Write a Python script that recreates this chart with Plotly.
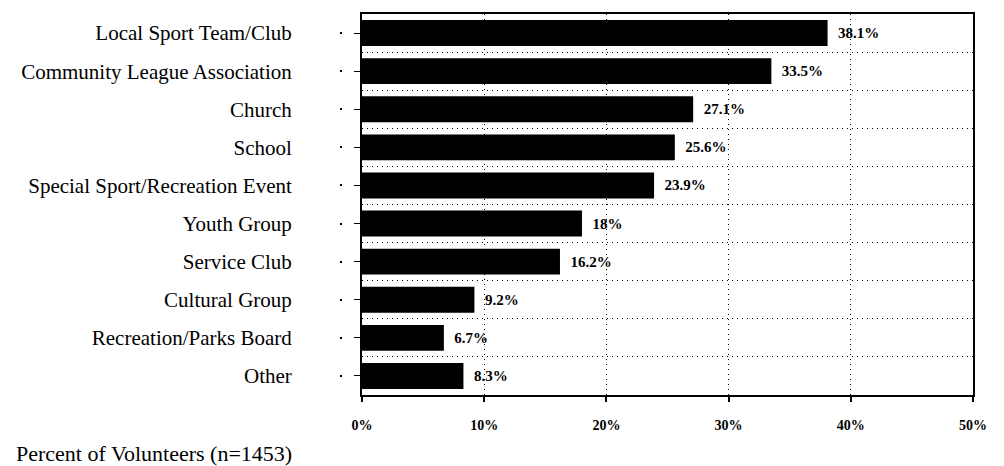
import plotly.graph_objects as go

categories = [
    "Local Sport Team/Club",
    "Community League Association",
    "Church",
    "School",
    "Special Sport/Recreation Event",
    "Youth Group",
    "Service Club",
    "Cultural Group",
    "Recreation/Parks Board",
    "Other",
]
percents = [38.1, 33.5, 27.1, 25.6, 23.9, 18, 16.2, 9.2, 6.7, 8.3]
x_ticks = [0, 10, 20, 30, 40, 50]
x_tick_labels = ["0%", "10%", "20%", "30%", "40%", "50%"]
axis_title = "Percent of Volunteers (n=1453)"

positions = list(range(len(categories)))
serif = "Liberation Serif, Times New Roman, serif"

# page geometry (pixels)
W, H = 1004, 466
M_L, M_R, M_T, M_B = 342, 31, 14, 71
AXIS_X = 362
plot_w = W - M_L - M_R
plot_h = H - M_T - M_B

fig = go.Figure()
fig.add_trace(go.Bar(
    x=percents,
    y=positions,
    orientation="h",
    width=0.68,
    marker=dict(color="black", line=dict(width=0)),
    text=percents,
    texttemplate="  %{x}%",
    textposition="outside",
    cliponaxis=False,
    textfont=dict(family=serif, size=15, color="black", weight="bold"),
    showlegend=False,
))
# empty trace bound to the secondary tick column
fig.add_trace(go.Scatter(
    x=[None], y=[None], yaxis="y2", showlegend=False, hoverinfo="skip",
))

fig.update_layout(
    width=W,
    height=H,
    margin=dict(l=M_L, r=M_R, t=M_T, b=M_B),
    plot_bgcolor="white",
    paper_bgcolor="white",
    bargap=0.3,
    xaxis=dict(
        domain=[(AXIS_X - M_L) / plot_w, 1],
        range=[0, 50],
        tickvals=x_ticks,
        ticktext=x_tick_labels,
        ticks="outside",
        ticklen=5,
        tickwidth=2,
        tickcolor="black",
        ticklabelstandoff=11,
        tickfont=dict(family=serif, size=14, color="black", weight="bold"),
        showline=True,
        linecolor="black",
        linewidth=2,
        mirror=True,
        showgrid=True,
        gridcolor="black",
        gridwidth=1,
        griddash="1px,4px",
        zeroline=False,
        fixedrange=True,
    ),
    yaxis=dict(
        range=[len(categories) - 0.5, -0.5],
        tickvals=positions,
        ticktext=categories,
        ticks="outside",
        ticklen=6,
        tickwidth=1,
        tickcolor="black",
        ticklabelstandoff=58,
        tickfont=dict(family=serif, size=21, color="black"),
        showline=True,
        linecolor="black",
        linewidth=2,
        mirror=True,
        showgrid=False,
        zeroline=False,
        minor=dict(
            tick0=0.5,
            dtick=1,
            showgrid=True,
            gridcolor="black",
            gridwidth=1,
            griddash="1px,4px",
            ticks="",
        ),
    ),
    yaxis2=dict(
        overlaying="y",
        anchor="free",
        position=0,
        side="left",
        range=[len(categories) - 0.5, -0.5],
        tickvals=positions,
        showticklabels=False,
        ticks="outside",
        ticklen=2,
        tickwidth=2,
        tickcolor="black",
        showline=False,
        showgrid=False,
        zeroline=False,
    ),
    annotations=[dict(
        text=axis_title,
        xref="paper", yref="paper",
        x=(14 - M_L) / plot_w, y=(plot_h + M_T - 453) / plot_h,
        xanchor="left", yanchor="middle",
        showarrow=False,
        font=dict(family=serif, size=22, color="black"),
    )],
)

fig.write_html("out.html")
